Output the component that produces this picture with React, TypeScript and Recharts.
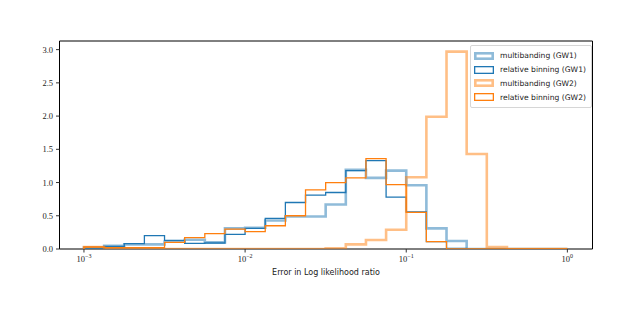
import { ComposedChart, Line, XAxis, YAxis, ReferenceArea } from 'recharts';

// bin edges: 1/8 decade from 1e-3 to 1e0
const binEdges = [
  0.001, 0.0013335, 0.0017783, 0.0023714, 0.0031623, 0.004217, 0.0056234, 0.0074989,
  0.01, 0.013335, 0.017783, 0.023714, 0.031623, 0.04217, 0.056234, 0.074989,
  0.1, 0.13335, 0.17783, 0.23714, 0.31623, 0.4217, 0.56234, 0.74989, 1,
];

const multibandingGW1 = [0.02, 0.05, 0.07, 0.07, 0.11, 0.14, 0.1, 0.31, 0.32, 0.43, 0.49, 0.49, 0.67, 1.19, 1.07, 1.18, 0.96, 0.31, 0.12, 0, 0, 0, 0, 0];
const relativeGW1 = [0.01, 0.04, 0.08, 0.2, 0.13, 0.085, 0.09, 0.22, 0.31, 0.46, 0.7, 0.81, 0.85, 1.18, 1.33, 0.78, 0.56, 0.11, 0.01, 0, 0, 0, 0, 0];
const multibandingGW2 = [0.03, 0.01, 0, 0, 0, 0, 0, 0, 0, 0, 0, 0, 0.01, 0.07, 0.135, 0.29, 1.08, 1.99, 2.97, 1.43, 0.03, 0, 0, 0];
const relativeGW2 = [0.03, 0.02, 0.02, 0.02, 0.1, 0.17, 0.23, 0.3, 0.26, 0.35, 0.5, 0.89, 1.0, 1.07, 1.36, 0.97, 0.55, 0.11, 0, 0, 0, 0, 0, 0];

const xTicks = [0.001, 0.01, 0.1, 1];
const xTickExp = ['\u22123', '\u22122', '\u22121', '0'];
const yTicks = [0, 0.5, 1, 1.5, 2, 2.5, 3];

const BLUE = '#1f77b4';
const ORANGE = '#ff7f0e';

const series = [
  { key: 'mbGW1', name: 'multibanding (GW1)', color: BLUE, width: 2.6, opacity: 0.5, values: multibandingGW1 },
  { key: 'rbGW1', name: 'relative binning (GW1)', color: BLUE, width: 1.3, opacity: 1, values: relativeGW1 },
  { key: 'mbGW2', name: 'multibanding (GW2)', color: ORANGE, width: 2.6, opacity: 0.5, values: multibandingGW2 },
  { key: 'rbGW2', name: 'relative binning (GW2)', color: ORANGE, width: 1.3, opacity: 1, values: relativeGW2 },
];

// step outline: start at zero, one row per bin, back to zero at the last edge
const rows: any[] = [];
rows.push(Object.fromEntries([['x', binEdges[0]], ...series.map((s) => [s.key, 0])]));
for (let i = 0; i < binEdges.length - 1; i++) {
  rows.push(Object.fromEntries([['x', binEdges[i]], ...series.map((s) => [s.key, s.values[i]])]));
}
rows.push(Object.fromEntries([['x', binEdges[binEdges.length - 1]], ...series.map((s) => [s.key, 0])]));

const SERIF = '"Liberation Serif", "DejaVu Serif", serif';
const SANS = '"DejaVu Sans", "Liberation Sans", sans-serif';

function PowerTick(props: any) {
  const { x, y, payload } = props;
  const idx = xTicks.indexOf(payload.value);
  return (
    <text x={x} y={y + 7} textAnchor="middle" fontFamily={SERIF} fontSize={8.5} fill="#222">
      10
      <tspan dy={-3.5} fontSize={6}>{xTickExp[idx]}</tspan>
    </text>
  );
}

function YTick(props: any) {
  const { x, y, payload } = props;
  return (
    <text x={x} y={y + 3} textAnchor="end" fontFamily={SERIF} fontSize={8.5} fill="#222">
      {payload.value.toFixed(1)}
    </text>
  );
}

function LegendBox() {
  return (
    <div
      style={{
        position: 'absolute',
        left: 470,
        top: 45,
        border: '1px solid #d6d6d6',
        borderRadius: 2,
        background: 'rgba(255,255,255,0.8)',
        padding: '3px 5px 3px 3px',
        fontFamily: SANS,
        fontSize: 7.6,
        color: '#222',
      }}
    >
      {series.map((s) => (
        <div key={s.key} style={{ display: 'flex', alignItems: 'center', height: 13.8 }}>
          <svg width={20} height={8} style={{ marginRight: 6 }}>
            <rect
              x={s.width / 2}
              y={s.width / 2}
              width={20 - s.width}
              height={8 - s.width}
              fill="none"
              stroke={s.color}
              strokeOpacity={s.opacity}
              strokeWidth={s.width}
            />
          </svg>
          <span>{s.name}</span>
        </div>
      ))}
    </div>
  );
}

export default function App() {
  return (
    <div style={{ position: 'absolute', left: 0, top: 0, width: 634, height: 317, background: '#fff' }}>
      <ComposedChart
        width={634}
        height={317}
        data={rows}
        margin={{ top: 41, right: 41.5, left: 0, bottom: 0 }}
      >
        <XAxis
          dataKey="x"
          type="number"
          scale="log"
          domain={[0.000705, 1.432]}
          allowDataOverflow
          ticks={xTicks}
          tick={<PowerTick />}
          tickSize={3.5}
          tickLine={{ stroke: '#333' }}
          axisLine={false}
          height={68}
          label={{
            value: 'Error in Log likelihood ratio',
            position: 'insideBottom',
            offset: 42,
            style: { fontFamily: SANS, fontSize: 8, fill: '#222' },
          }}
        />
        <YAxis
          type="number"
          domain={[0, 3.13]}
          allowDataOverflow
          ticks={yTicks}
          tick={<YTick />}
          tickSize={3.5}
          tickMargin={3}
          tickLine={{ stroke: '#333' }}
          axisLine={false}
          width={59.5}
        />
        {series.map((s) => (
          <Line
            key={s.key}
            dataKey={s.key}
            name={s.name}
            type="stepAfter"
            stroke={s.color}
            strokeOpacity={s.opacity}
            strokeWidth={s.width}
            dot={false}
            activeDot={false}
            isAnimationActive={false}
          />
        ))}
        <ReferenceArea
          x1={0.000705}
          x2={1.432}
          y1={0}
          y2={3.13}
          fill="none"
          stroke="#000"
          strokeWidth={1}
          ifOverflow="visible"
        />
      </ComposedChart>
      <LegendBox />
    </div>
  );
}
